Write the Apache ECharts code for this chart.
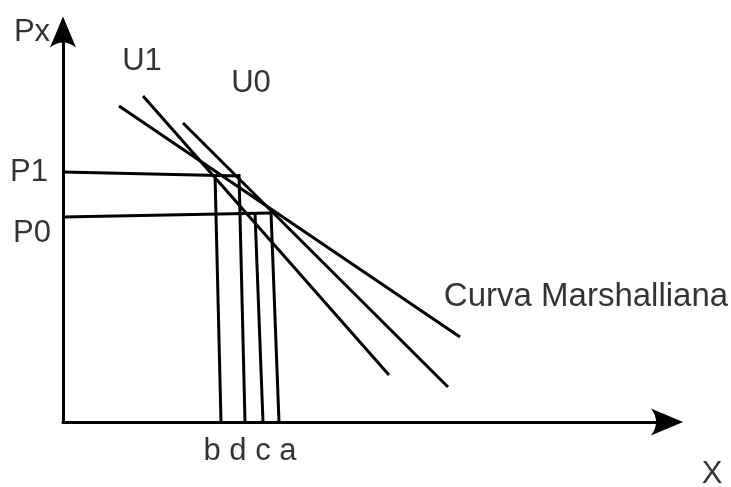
<!DOCTYPE html>
<html>
<head>
<meta charset="utf-8">
<script src="https://cdn.jsdelivr.net/npm/echarts@6/dist/echarts.min.js"></script>
<style>
  html, body { margin: 0; padding: 0; background: #fff; }
  #chart { width: 731px; height: 487px; }
</style>
</head>
<body>
<div id="chart"></div>
<script>
// axis units: X quantity 0..604, Px 0..390
const xMax = 604;
const yMax = 390;

// demand curves, each [start, end] as [X, Px]
const marshall = [[56, 316], [397, 85]];
const u1 = [[80, 326], [326, 47]];
const u0 = [[120, 299], [385, 35]];

// price levels drawn from the Px axis
const p1Line = [[0, 250], [177, 246]];
const p0Line = [[0, 205], [208, 209]];

// quantity drops down to the X axis
const bLine = [[152, 248], [158, 0]];
const dLine = [[176, 248], [182, 0]];
const cLine = [[192, 209], [200, 0]];
const aLine = [[208, 210], [216, 0]];

// annotations and where they sit (in axis units)
const labelText = ['Px', 'U1', 'U0', 'P1', 'P0', 'b d c a', 'X', 'Curva Marshalliana'];
const labelAt = [[-31, 390], [79, 361], [188, 339], [-34, 250], [-31, 189], [187, -29], [649, -52], [523, 125]];

const segments = [marshall, u1, u0, p1Line, p0Line, bLine, dLine, cLine, aLine];

const arrowHead = 'path://M0,0L13,31Q0,21,-13,31Z';
const font = "'Liberation Sans', Arial, sans-serif";

const chart = echarts.init(document.getElementById('chart'));

const axisBase = {
  type: 'value',
  min: 0,
  axisLine: {
    show: true,
    symbol: ['none', arrowHead],
    lineStyle: { color: '#000', width: 3 }
  },
  axisTick: { show: false },
  axisLabel: { show: false },
  splitLine: { show: false }
};

chart.setOption({
  animation: false,
  grid: { left: 63, top: 32, width: 604, height: 390 },
  xAxis: Object.assign({}, axisBase, {
    max: xMax,
    axisLine: Object.assign({}, axisBase.axisLine, { symbolSize: [27, 33] })
  }),
  yAxis: Object.assign({}, axisBase, {
    max: yMax,
    axisLine: Object.assign({}, axisBase.axisLine, { symbolSize: [26, 31] })
  }),
  series: segments.map((seg) => ({
    type: 'line',
    data: seg,
    symbol: 'none',
    silent: true,
    lineStyle: { color: '#000', width: 3 }
  })).concat([{
    type: 'scatter',
    clip: false,
    symbolSize: 0,
    silent: true,
    data: labelText.map((t, i) => ({
      value: [labelAt[i][0], labelAt[i][1]],
      name: t,
      label: t === 'Curva Marshalliana' ? { fontSize: 33 } : undefined
    })),
    label: {
      show: true,
      position: 'inside',
      formatter: (p) => p.name,
      color: '#000',
      fontSize: 31,
      fontFamily: font
    }
  }])
});
</script>
</body>
</html>
